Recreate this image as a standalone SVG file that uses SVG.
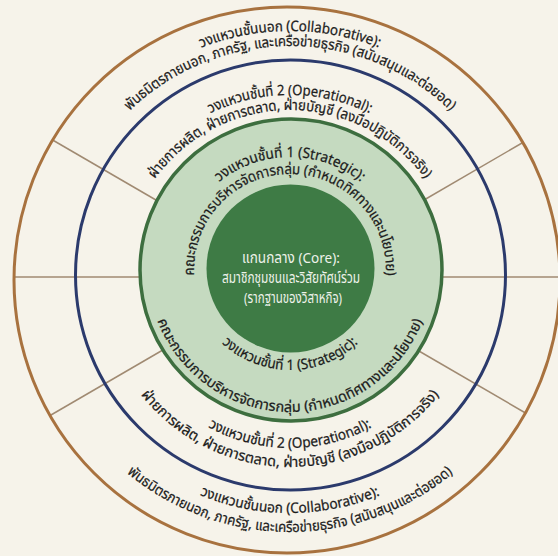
<svg xmlns="http://www.w3.org/2000/svg" width="558" height="556" viewBox="0 0 558 556">
<style>
.ring{fill:none}
.lbl{font-family:'Noto Sans Thai','Noto Sans',Roboto,sans-serif;font-size:14.5px;fill:#1c1c1c;stroke:#1c1c1c;stroke-width:0.25;text-anchor:middle}
.core{font-family:'Noto Sans Thai','Noto Sans',Roboto,sans-serif;font-size:15px;fill:#eef2ea;text-anchor:middle}
.spoke{stroke:#a08a72;stroke-width:1.5;fill:none}
</style>
<defs>
<path id="pOT1" d="M77,400 A246,246 0 0 1 290,31 A246,246 0 0 1 503,400"/>
<path id="pOT2" d="M89.95,392.5 A231,231 0 0 1 290,46 A231,231 0 0 1 490.05,392.5"/>
<path id="pPT1" d="M132.4,368 A182,182 0 0 1 290,95 A182,182 0 0 1 447.6,368"/>
<path id="pPT2" d="M145.4,360.5 A167,167 0 0 1 290,110 A167,167 0 0 1 434.6,360.5"/>
<path id="pST1" d="M192.1,326.5 A113,113 0 0 1 290,157 A113,113 0 0 1 387.9,326.5"/>
<path id="pST2" d="M206.9,318 A96,96 0 0 1 290,174 A96,96 0 0 1 373.1,318"/>
<path id="pSB1" d="M203.4,220 A100,100 0 0 0 290,370 A100,100 0 0 0 376.6,220"/>
<path id="pSB2" d="M167,199 A142,142 0 0 0 290,412 A142,142 0 0 0 413,199"/>
<path id="pPB1" d="M141.9,191.5 A171,171 0 0 0 290,448 A171,171 0 0 0 438.1,191.5"/>
<path id="pPB2" d="M125.5,182 A190,190 0 0 0 290,467 A190,190 0 0 0 454.5,182"/>
<path id="pOB1" d="M85.6,159 A236,236 0 0 0 290,513 A236,236 0 0 0 494.4,159"/>
<path id="pOB2" d="M69.2,149.5 A255,255 0 0 0 290,532 A255,255 0 0 0 510.8,149.5"/>
</defs>
<rect width="558" height="556" fill="#f6f3ea"/>
<g id="connectors">
<line class="spoke" x1="168" y1="207" x2="52.6" y2="140"/>
<line class="spoke" x1="150" y1="277" x2="14" y2="277"/>
<line class="spoke" x1="168" y1="347" x2="50.1" y2="415.5"/>
<line class="spoke" x1="412" y1="207" x2="522.9" y2="142.5"/>
<line class="spoke" x1="430" y1="277" x2="560" y2="277"/>
<line class="spoke" x1="412" y1="347" x2="525.5" y2="413"/>
</g>
<g id="outer-ring">
<circle class="ring" cx="287" cy="280" r="273" stroke="#a8723f" stroke-width="3"/>
<text class="lbl" textLength="182" lengthAdjust="spacingAndGlyphs"><textPath href="#pOT1" startOffset="50%">วงแหวนชั้นนอก (Collaborative):</textPath></text>
<text class="lbl" textLength="355" lengthAdjust="spacingAndGlyphs"><textPath href="#pOT2" startOffset="50%">พันธมิตรภายนอก, ภาครัฐ, และเครือข่ายธุรกิจ (สนับสนุนและต่อยอด)</textPath></text>
<text class="lbl" textLength="185" lengthAdjust="spacingAndGlyphs"><textPath href="#pOB1" startOffset="50%">วงแหวนชั้นนอก (Collaborative):</textPath></text>
<text class="lbl" textLength="354" lengthAdjust="spacingAndGlyphs"><textPath href="#pOB2" startOffset="50%">พันธมิตรภายนอก, ภาครัฐ, และเครือข่ายธุรกิจ (สนับสนุนและต่อยอด)</textPath></text>
</g>
<g id="operational-ring">
<circle class="ring" cx="290.5" cy="275" r="215" stroke="#2b3a6c" stroke-width="3"/>
<text class="lbl" textLength="165" lengthAdjust="spacingAndGlyphs"><textPath href="#pPT1" startOffset="50%">วงแหวนชั้นที่ 2 (Operational):</textPath></text>
<text class="lbl" textLength="315" lengthAdjust="spacingAndGlyphs"><textPath href="#pPT2" startOffset="50%">ฝ่ายการผลิต, ฝ่ายการตลาด, ฝ่ายบัญชี (ลงมือปฏิบัติการจริง)</textPath></text>
<text class="lbl" textLength="171" lengthAdjust="spacingAndGlyphs"><textPath href="#pPB1" startOffset="50%">วงแหวนชั้นที่ 2 (Operational):</textPath></text>
<text class="lbl" textLength="343" lengthAdjust="spacingAndGlyphs"><textPath href="#pPB2" startOffset="50%">ฝ่ายการผลิต, ฝ่ายการตลาด, ฝ่ายบัญชี (ลงมือปฏิบัติการจริง)</textPath></text>
</g>
<g id="strategic-ring">
<circle cx="291" cy="270" r="151" fill="#c5dac0" stroke="#3d6e3f" stroke-width="3.5"/>
<text class="lbl" textLength="153" lengthAdjust="spacingAndGlyphs"><textPath href="#pST1" startOffset="50%">วงแหวนชั้นที่ 1 (Strategic):</textPath></text>
<text class="lbl" textLength="312" lengthAdjust="spacingAndGlyphs"><textPath href="#pST2" startOffset="50%">คณะกรรมการบริหารจัดการกลุ่ม (กำหนดทิศทางและนโยบาย)</textPath></text>
<text class="lbl" textLength="150" lengthAdjust="spacingAndGlyphs"><textPath href="#pSB1" startOffset="50%">วงแหวนชั้นที่ 1 (Strategic):</textPath></text>
<text class="lbl" textLength="342" lengthAdjust="spacingAndGlyphs"><textPath href="#pSB2" startOffset="50%">คณะกรรมการบริหารจัดการกลุ่ม (กำหนดทิศทางและนโยบาย)</textPath></text>
</g>
<g id="core">
<circle cx="290.5" cy="268.5" r="84" fill="#3e7b45"/>
<text class="core" x="291" y="263" textLength="98" lengthAdjust="spacingAndGlyphs">แกนกลาง (Core):</text>
<text class="core" x="291" y="283" textLength="138" lengthAdjust="spacingAndGlyphs">สมาชิกชุมชนและวิสัยทัศน์ร่วม</text>
<text class="core" x="293" y="303" textLength="98" lengthAdjust="spacingAndGlyphs">(รากฐานของวิสาหกิจ)</text>
</g>
</svg>
